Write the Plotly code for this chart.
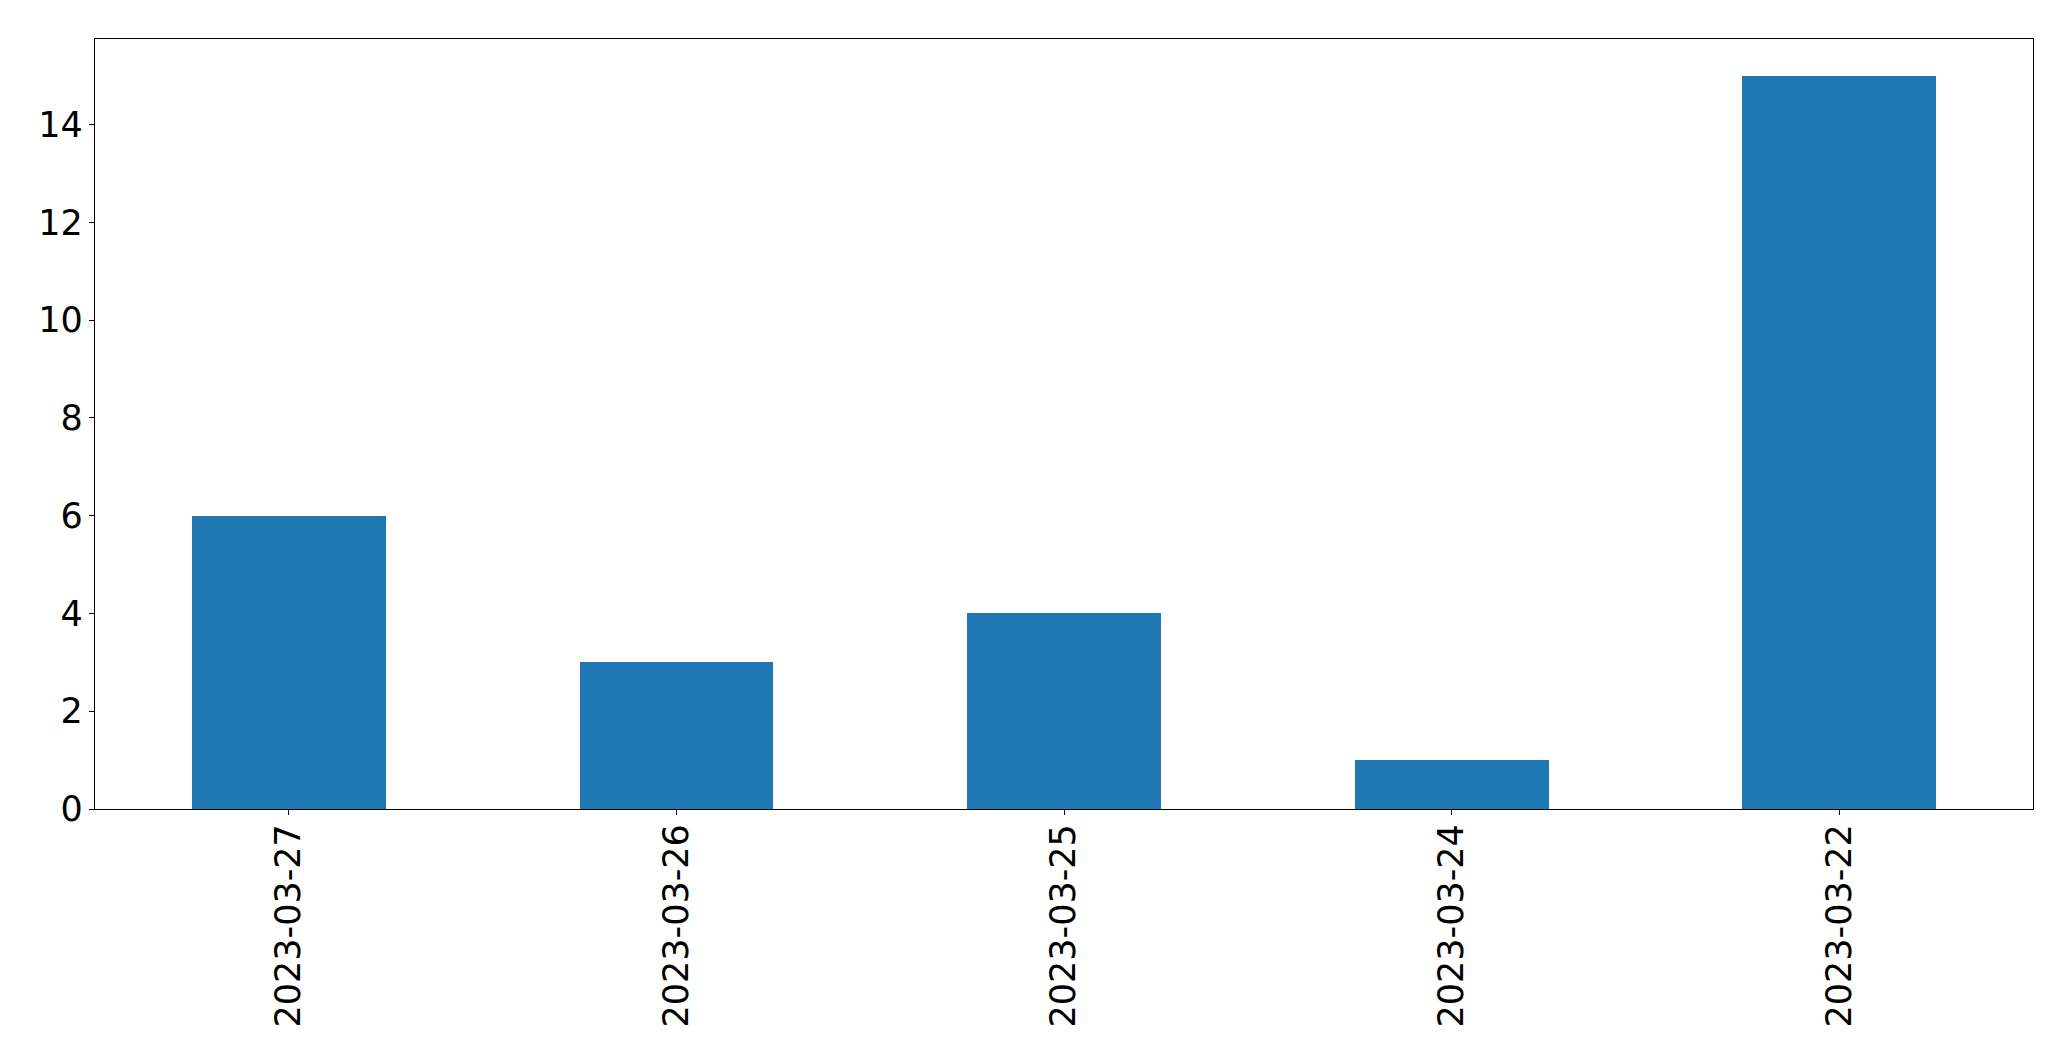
import plotly.graph_objects as go

dates = ["2023-03-27", "2023-03-26", "2023-03-25", "2023-03-24", "2023-03-22"]
counts = [6, 3, 4, 1, 15]
y_ticks = [0, 2, 4, 6, 8, 10, 12, 14]

fig = go.Figure(go.Bar(x=dates, y=counts, width=0.5, marker=dict(color="#1f77b4", line=dict(width=0))))

# page body has an 8px default margin; compensate
fig.update_layout(
    width=2063, height=1053,
    margin=dict(l=87, r=38, t=31, b=252, pad=0),
    plot_bgcolor="white", paper_bgcolor="white",
    font=dict(family="DejaVu Sans", size=35, color="black"),
    showlegend=False,
    bargap=0,
)
fig.update_xaxes(
    type="category", range=[-0.5, 4.5], tickangle=-90,
    showline=True, linecolor="black", linewidth=1.3, mirror=True,
    ticks="outside", ticklen=5, tickwidth=1.3, tickcolor="black",
    ticklabelstandoff=-5,
    showgrid=False, zeroline=False,
)
fig.update_yaxes(
    range=[0, 15.75], tickvals=y_ticks,
    showline=True, linecolor="black", linewidth=1.3, mirror=True,
    ticks="outside", ticklen=5, tickwidth=1.3, tickcolor="black",
    ticklabelstandoff=-1,
    showgrid=False, zeroline=False,
)
fig.write_html("out.html")
